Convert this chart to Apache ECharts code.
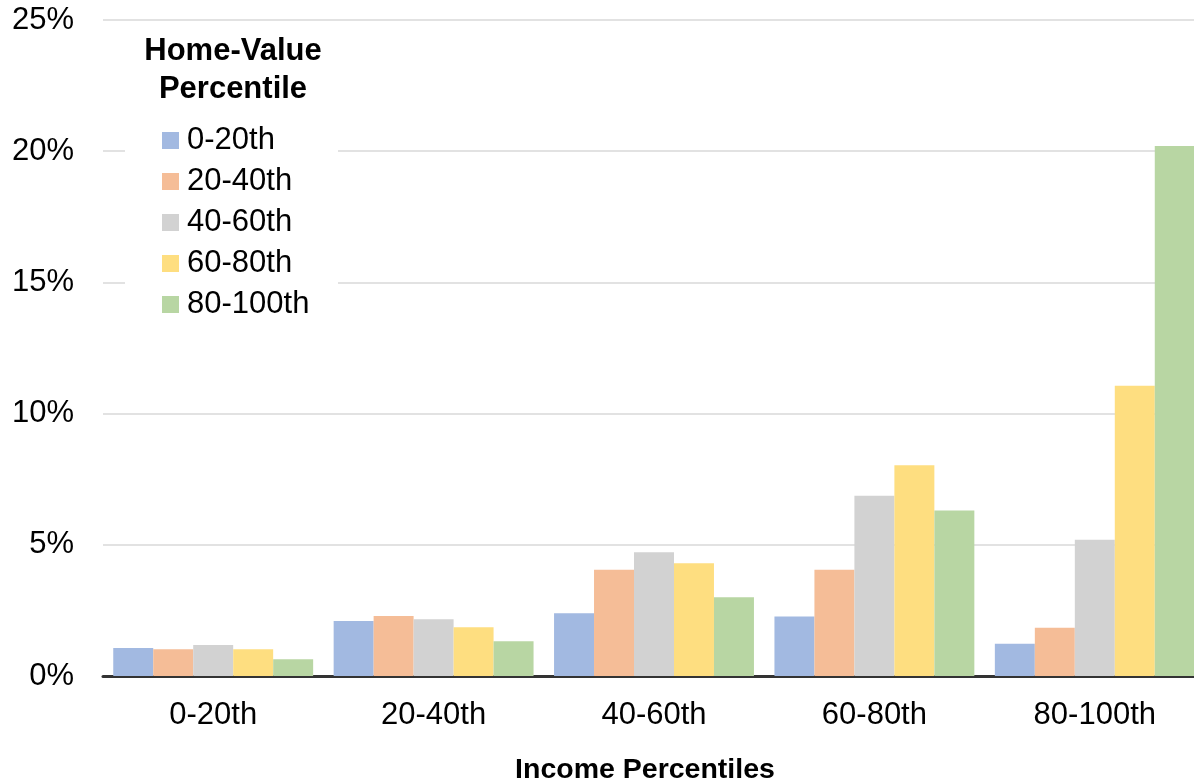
<!DOCTYPE html>
<html>
<head>
<meta charset="utf-8">
<script src="https://cdn.jsdelivr.net/npm/echarts@6/dist/echarts.min.js"></script>
<style>
  html, body { margin: 0; padding: 0; background: #ffffff; }
  #chart { width: 1194px; height: 782px; }
</style>
</head>
<body>
<div id="chart"></div>
<script>
const categories = ['0-20th', '20-40th', '40-60th', '60-80th', '80-100th'];
const seriesNames = ['0-20th', '20-40th', '40-60th', '60-80th', '80-100th'];
const s0_20 = [1.07, 2.10, 2.39, 2.27, 1.23];
const s20_40 = [1.02, 2.29, 4.05, 4.05, 1.84];
const s40_60 = [1.18, 2.16, 4.72, 6.87, 5.19];
const s60_80 = [1.02, 1.86, 4.30, 8.03, 11.06];
const s80_100 = [0.64, 1.32, 3.00, 6.31, 20.20];
const yTicks = [0, 5, 10, 15, 20, 25];
const colors = ['#A2B9E1', '#F5BD97', '#D2D2D2', '#FEDE80', '#B8D6A3'];

const allValues = [s0_20, s20_40, s40_60, s60_80, s80_100];
const font = 'Liberation Sans, Arial, sans-serif';

const chart = echarts.init(document.getElementById('chart'));
chart.setOption({
  animation: false,
  backgroundColor: '#ffffff',
  textStyle: { fontFamily: font },
  grid: { left: 103, top: 20, width: 1102, height: 656, containLabel: false, outerBoundsMode: 'none' },
  legend: {
    data: seriesNames,
    orient: 'vertical',
    left: 157,
    top: 120,
    itemWidth: 17,
    itemHeight: 17,
    itemGap: 10,
    icon: 'rect',
    z: 10,
    textStyle: { fontSize: 31, lineHeight: 31, color: '#000', fontFamily: font, padding: [0, 0, 0, 3] }
  },
  graphic: [
    { type: 'rect', z: 5, shape: { x: 125, y: 30, width: 213, height: 292 }, style: { fill: '#ffffff' } },
    { type: 'text', z: 10, x: 233, y: 32,
      style: { text: 'Home-Value\nPercentile', align: 'center', verticalAlign: 'top', fontSize: 31, fontWeight: 'bold',
               fill: '#000', fontFamily: font, lineHeight: 38 } }
  ],
  xAxis: {
    type: 'category',
    data: categories,
    name: 'Income Percentiles',
    nameLocation: 'middle',
    nameGap: 80,
    nameTextStyle: { fontSize: 28.5, fontWeight: 'bold', color: '#000', fontFamily: font, padding: [0, 18, 0, 0] },
    axisLine: { lineStyle: { color: '#333333', width: 3 } },
    axisTick: { show: false },
    axisLabel: { fontSize: 31, color: '#000', margin: 24, fontFamily: font }
  },
  yAxis: {
    type: 'value',
    min: yTicks[0],
    max: yTicks[yTicks.length - 1],
    interval: 5,
    axisLine: { show: false },
    axisTick: { show: false },
    splitLine: { lineStyle: { color: '#D9D9D9', width: 1.5 } },
    axisLabel: { fontSize: 31, color: '#000', margin: 29, formatter: '{value}%', fontFamily: font }
  },
  series: seriesNames.map((n, i) => ({
    name: n,
    type: 'bar',
    data: allValues[i],
    barGap: '0%',
    barCategoryGap: '9.3%',
    itemStyle: { color: colors[i] },
    emphasis: { disabled: true }
  }))
});
</script>
</body>
</html>
